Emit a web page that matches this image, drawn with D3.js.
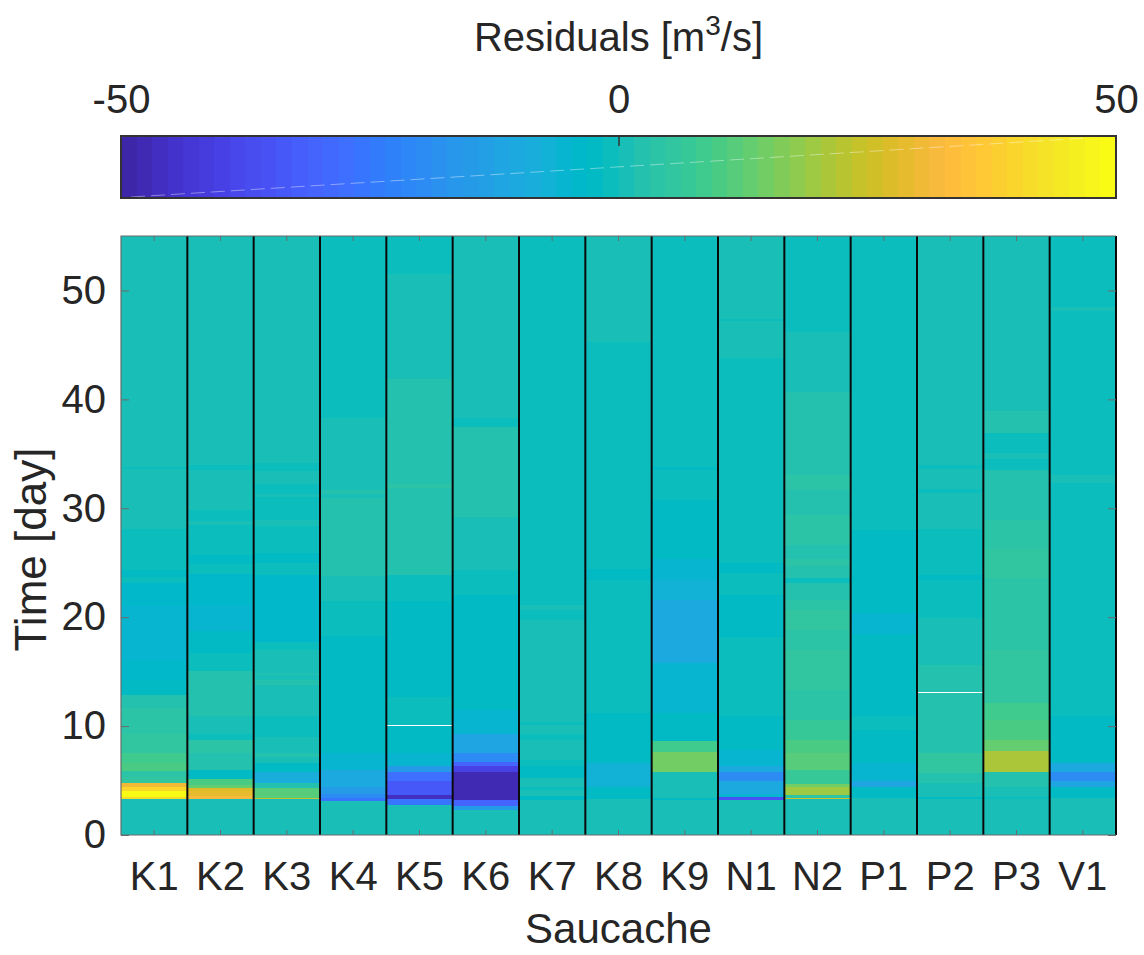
<!DOCTYPE html>
<html>
<head>
<meta charset="utf-8">
<script src="https://cdn.jsdelivr.net/npm/d3@7"></script>
<style>
  html, body { margin: 0; padding: 0; background: #fff; }
  svg { display: block; font-family: "Liberation Sans", Arial, Helvetica, sans-serif; }
</style>
</head>
<body>
<svg id="chart" width="1144" height="955"></svg>
<script>
// Stations (columns) and their residual bands: [fromDay, toDay, residual m3/s]; null = no data
const stations = ["K1", "K2", "K3", "K4", "K5", "K6", "K7", "K8", "K9", "N1", "N2", "P1", "P2", "P3", "V1"];

const K1 = [[0,3.3,0.8],[3.3,3.5,42],[3.5,4.07,49],[4.07,4.4,40],[4.4,4.75,30.5],[4.75,5.3,5.5],[5.3,5.85,3.9],
  [5.85,6.6,10],[6.6,7.5,8.6],[7.5,9.3,5.5],[9.3,11.7,3.9],[11.7,12.9,2.3],[12.9,14.2,-2.3],[14.2,16.1,-3.9],
  [16.1,21.0,-5.5],[21.0,23.1,-3.9],[23.1,23.7,-1.5],[23.7,24.35,-2.3],[24.35,28.1,-0.8],[28.1,33.6,0.8],
  [33.6,33.8,-0.8],[33.8,55,0.8]];
const K2 = [[0,3.3,0.8],[3.3,3.6,32],[3.6,4.0,29],[4.0,4.3,27],[4.3,4.6,14],[4.6,5.1,10],[5.1,6.0,-2.3],
  [6.0,7.5,2.3],[7.5,8.7,3.9],[8.7,9.3,-0.8],[9.3,10.9,0.8],[10.9,14.4,3.1],[14.4,15.1,2.3],[15.1,16.7,-0.8],
  [16.7,18.7,-3.1],[18.7,21.1,-4.7],[21.1,24.0,-3.9],[24.0,24.9,-0.8],[24.9,25.7,-2.3],[25.7,28.5,-0.8],
  [28.5,28.8,0.8],[28.8,29.8,-0.8],[29.8,33.5,0.8],[33.5,34.0,-0.8],[34.0,55,0.8]];
const K3 = [[0,3.3,0.8],[3.3,3.4,24],[3.4,4.3,11.7],[4.3,4.75,3.1],[4.75,5.8,-8.6],[5.8,6.6,-2.3],[6.6,7.2,0.8],
  [7.2,7.5,2.3],[7.5,9.0,0.8],[9.0,10.9,-0.8],[10.9,13.8,0.8],[13.8,14.2,2.3],[14.2,14.7,0.8],[14.7,14.8,2.3],
  [14.8,17.0,0.8],[17.0,17.7,-0.8],[17.7,23.9,-3.5],[23.9,24.4,-1.5],[24.4,25.0,-0.8],[25.0,25.9,-2.3],
  [25.9,28.4,-0.8],[28.4,28.9,0.8],[28.9,31.0,-0.8],[31.0,31.3,0.8],[31.3,32.2,-0.8],[32.2,33.4,0.8],
  [33.4,34.2,-0.8],[34.2,55,0.8]];
const K4 = [[0,3.1,0.8],[3.1,3.4,-26],[3.4,3.8,-20],[3.8,4.4,-15],[4.4,6.0,-10],[6.0,7.5,-5.5],[7.5,10.6,-3.1],
  [10.6,18.3,-2.3],[18.3,21.5,-0.8],[21.5,23.8,0.8],[23.8,30.9,2.3],[30.9,31.3,0.8],[31.3,31.7,2.3],
  [31.7,38.3,0.8],[38.3,55,-0.8]];
const K5 = [[0,2.75,0.8],[2.75,3.3,-26],[3.3,3.7,-46],[3.7,5.0,-33],[5.0,5.8,-27],[5.8,6.3,-15],[6.3,7.5,-5.5],
  [7.5,10.0,-2.3],[10.0,10.1,null],[10.1,12.7,-0.8],[12.7,21.5,-2.3],[21.5,23.9,-0.8],[23.9,24.6,3.1],
  [24.6,31.9,2.3],[31.9,32.2,3.9],[32.2,41.9,2.3],[41.9,51.5,0.8],[51.5,55,-0.8]];
const K6 = [[0,2.3,0.8],[2.3,2.7,-15],[2.7,3.2,-30],[3.2,5.8,-48],[5.8,6.3,-40],[6.3,6.7,-31],[6.7,7.5,-20],
  [7.5,9.3,-11],[9.3,11.5,-5.5],[11.5,22.0,-2.3],[22.0,24.3,-0.8],[24.3,28.2,0.8],[28.2,29.2,1.5],
  [29.2,37.5,2.3],[37.5,38.3,-0.8],[38.3,55,0.8]];
const K7 = [[0,3.2,0.8],[3.2,3.6,-2.3],[3.6,4.1,0.8],[4.1,4.4,-0.8],[4.4,5.2,0.8],[5.2,6.3,-3.1],[6.3,6.9,-0.8],
  [6.9,8.7,0.8],[8.7,9.3,-0.8],[9.3,10.1,0.8],[10.1,10.4,-0.8],[10.4,19.7,0.8],[19.7,20.7,-0.8],
  [20.7,21.1,0.8],[21.1,55,-0.8]];
const K8 = [[0,3.3,0.8],[3.3,4.4,-2.3],[4.4,6.6,-7],[6.6,11.2,-2.3],[11.2,23.4,-0.8],[23.4,24.4,-2.3],
  [24.4,45.3,-0.8],[45.3,55,0.8]];
const K9 = [[0,3.2,0.8],[3.2,3.4,-3.1],[3.4,3.8,0.8],[3.8,5.8,1.5],[5.8,7.6,15],[7.6,8.6,8.6],[8.6,11.2,-3.1],
  [11.2,15.8,-5.5],[15.8,21.6,-10],[21.6,23.4,-7],[23.4,25.3,-4.7],[25.3,28.6,-3.1],[28.6,30.8,-2.3],
  [30.8,31.1,-0.8],[31.1,32.0,-1.5],[32.0,33.5,-0.8],[33.5,33.8,-2.3],[33.8,55,-0.8]];
const N1 = [[0,3.2,0.8],[3.2,3.5,-35],[3.5,3.8,-5],[3.8,5.0,-10],[5.0,5.8,-20],[5.8,6.3,-10],[6.3,7.8,-5.5],
  [7.8,10.9,-2.3],[10.9,18.2,-0.8],[18.2,22.0,-2.3],[22.0,24.1,-0.8],[24.1,25.0,-2.3],[25.0,43.8,-0.8],
  [43.8,47.2,0.8],[47.2,47.4,-0.8],[47.4,55,0.8]];
const N2 = [[0,3.3,0.8],[3.3,3.4,26],[3.4,3.7,3.9],[3.7,4.4,20],[4.4,4.7,15],[4.7,6.0,7],[6.0,7.5,12],
  [7.5,8.7,9.4],[8.7,10.6,7],[10.6,13.3,3.9],[13.3,17.0,5.5],[17.0,18.8,3.9],[18.8,20.7,5.5],[20.7,21.6,3.9],
  [21.6,23.1,2.3],[23.1,23.6,-0.8],[23.6,24.7,2.3],[24.7,25.3,3.9],[25.3,26.6,3.1],[26.6,29.4,3.9],
  [29.4,31.7,2.3],[31.7,33.1,3.9],[33.1,37.4,2.3],[37.4,37.8,3.1],[37.8,40.7,2.3],[40.7,46.2,0.8],[46.2,55,-0.8]];
const P1 = [[0,3.4,0.8],[3.4,4.4,-2.3],[4.4,5.0,-12],[5.0,6.6,-5.5],[6.6,9.6,-2.3],[9.6,10.9,-0.8],
  [10.9,15.1,-2.3],[15.1,18.5,-3.1],[18.5,20.4,-5.5],[20.4,23.7,-3.1],[23.7,28.0,-2.3],[28.0,55,-0.8]];
const P2 = [[0,3.3,0.8],[3.3,3.5,-2.3],[3.5,4.75,0.8],[4.75,5.7,3.1],[5.7,7.5,5.5],[7.5,13.0,3.1],
  [13.0,13.1,null],[13.1,15.6,2.3],[15.6,19.9,0.8],[19.9,23.4,-0.8],[23.4,23.9,-2.3],[23.9,28.1,-0.8],
  [28.1,31.4,0.8],[31.4,31.8,-0.8],[31.8,33.6,0.8],[33.6,34.0,-0.8],[34.0,55,0.8]];
const P3 = [[0,3.3,0.8],[3.3,3.5,-0.8],[3.5,4.4,1.5],[4.4,5.8,3.1],[5.8,7.7,20.5],[7.7,8.7,12.5],[8.7,10.6,10],
  [10.6,12.1,8.6],[12.1,17.0,5.5],[17.0,23.6,3.9],[23.6,26.3,5.5],[26.3,28.9,3.9],[28.9,33.5,2.3],
  [33.5,34.5,-0.8],[34.5,35.1,0.8],[35.1,36.9,-0.8],[36.9,38.9,2.3],[38.9,55,0.8]];
const V1 = [[0,3.4,0.8],[3.4,4.4,-2.3],[4.4,5.0,-11],[5.0,5.8,-20],[5.8,6.6,-10],[6.6,9.6,-3.1],
  [9.6,10.9,-2.3],[10.9,32.3,-0.8],[32.3,33.1,0.8],[33.1,48.1,-0.8],[48.1,48.5,0.8],[48.5,55,-0.8]];

const bandsByStation = { K1, K2, K3, K4, K5, K6, K7, K8, K9, N1, N2, P1, P2, P3, V1 };

const timeTicks = [0, 10, 20, 30, 40, 50];
const colorTicks = [-50, 0, 50];
const timeDomain = [0, 55];
const residualDomain = [-50, 50];

// 64-step parula palette
const parula = [
  [0.2422,0.1504,0.6603],[0.2504,0.1650,0.7076],[0.2578,0.1818,0.7511],[0.2647,0.1978,0.7952],
  [0.2706,0.2147,0.8364],[0.2751,0.2342,0.8710],[0.2783,0.2559,0.8991],[0.2803,0.2782,0.9221],
  [0.2813,0.3006,0.9414],[0.2810,0.3228,0.9579],[0.2795,0.3447,0.9717],[0.2760,0.3667,0.9829],
  [0.2699,0.3892,0.9906],[0.2602,0.4123,0.9952],[0.2440,0.4358,0.9988],[0.2206,0.4603,0.9973],
  [0.1963,0.4847,0.9892],[0.1834,0.5074,0.9798],[0.1786,0.5289,0.9682],[0.1764,0.5499,0.9520],
  [0.1687,0.5703,0.9359],[0.1540,0.5902,0.9218],[0.1460,0.6091,0.9079],[0.1380,0.6276,0.8973],
  [0.1248,0.6459,0.8883],[0.1113,0.6635,0.8763],[0.0952,0.6798,0.8598],[0.0689,0.6948,0.8394],
  [0.0297,0.7082,0.8163],[0.0036,0.7203,0.7917],[0.0067,0.7312,0.7660],[0.0433,0.7411,0.7394],
  [0.0964,0.7500,0.7120],[0.1408,0.7584,0.6842],[0.1717,0.7670,0.6554],[0.1938,0.7758,0.6251],
  [0.2161,0.7843,0.5923],[0.2470,0.7918,0.5567],[0.2906,0.7973,0.5188],[0.3406,0.8008,0.4789],
  [0.3909,0.8029,0.4354],[0.4456,0.8024,0.3909],[0.5044,0.7993,0.3480],[0.5616,0.7942,0.3045],
  [0.6174,0.7876,0.2612],[0.6720,0.7793,0.2227],[0.7242,0.7698,0.1910],[0.7738,0.7598,0.1646],
  [0.8203,0.7498,0.1535],[0.8634,0.7406,0.1596],[0.9035,0.7330,0.1774],[0.9393,0.7288,0.2100],
  [0.9728,0.7298,0.2394],[0.9956,0.7434,0.2371],[0.9970,0.7659,0.2199],[0.9952,0.7893,0.2028],
  [0.9892,0.8136,0.1885],[0.9786,0.8386,0.1766],[0.9676,0.8639,0.1643],[0.9610,0.8890,0.1537],
  [0.9597,0.9135,0.1423],[0.9628,0.9373,0.1265],[0.9691,0.9606,0.1064],[0.9769,0.9839,0.0805]
].map(c => d3.rgb(c[0] * 255, c[1] * 255, c[2] * 255).formatHex());

const color = d3.scaleQuantize().domain(residualDomain).range(parula);

const svg = d3.select("#chart");
const textColor = "#262626";
const tickFont = 40;
const titleFont = 42;
const plot = { left: 121, right: 1116, top: 236, bottom: 835 };
const bar = { left: 121, right: 1116, top: 136, bottom: 198 };

const x = d3.scaleBand().domain(stations).range([plot.left, plot.right]).padding(0);
const y = d3.scaleLinear().domain(timeDomain).range([plot.bottom, plot.top]);

// ---- heatmap columns ----
const cells = [];
stations.forEach(s => bandsByStation[s].forEach(([t0, t1, v]) => cells.push({ s, t0, t1, v })));

svg.append("g").selectAll("rect").data(cells).join("rect")
  .attr("x", d => x(d.s))
  .attr("width", x.bandwidth())
  .attr("y", d => y(d.t1))
  .attr("height", d => y(d.t0) - y(d.t1))
  .attr("fill", d => d.v === null ? "#ffffff" : color(d.v))
  .attr("fill-opacity", d => d.v === null ? 0.45 : 1)
  .attr("shape-rendering", "crispEdges");

// column separators
svg.append("g").selectAll("line").data(stations).join("line")
  .attr("x1", d => x(d) + x.bandwidth()).attr("x2", d => x(d) + x.bandwidth())
  .attr("y1", plot.top).attr("y2", plot.bottom)
  .attr("stroke", "#0a0a0a").attr("stroke-width", 2);

// frame
svg.append("path")
  .attr("d", `M${plot.right},${plot.top}H${plot.left}V${plot.bottom}H${plot.right}`)
  .attr("fill", "none").attr("stroke", "#6b6b6b").attr("stroke-width", 1.2);

// y axis (left labels, inward ticks on both sides)
const yAxis = d3.axisLeft(y).tickValues(timeTicks).tickSize(-8).tickPadding(16).tickFormat(d3.format("d"));
const gy = svg.append("g").attr("transform", `translate(${plot.left},0)`).call(yAxis);
gy.select(".domain").remove();
gy.selectAll(".tick line").attr("stroke", "#6b6b6b");
gy.selectAll(".tick text").attr("font-size", tickFont).attr("fill", textColor).attr("dx", 1);
const yAxisR = d3.axisRight(y).tickValues(timeTicks).tickSize(-8).tickFormat("");
const gyr = svg.append("g").attr("transform", `translate(${plot.right},0)`).call(yAxisR);
gyr.select(".domain").remove();
gyr.selectAll(".tick line").attr("stroke", "#6b6b6b");

// x axis (bottom labels, inward ticks top and bottom)
const xAxis = d3.axisBottom(x).tickSize(-5).tickPadding(27);
const gx = svg.append("g").attr("transform", `translate(0,${plot.bottom})`).call(xAxis);
gx.select(".domain").remove();
gx.selectAll(".tick line").attr("stroke", "#6b6b6b");
gx.selectAll(".tick text").attr("font-size", tickFont).attr("fill", textColor);
const xAxisT = d3.axisTop(x).tickSize(-5).tickFormat("");
const gxt = svg.append("g").attr("transform", `translate(0,${plot.top})`).call(xAxisT);
gxt.select(".domain").remove();
gxt.selectAll(".tick line").attr("stroke", "#6b6b6b");

// axis titles
svg.append("text").attr("x", (plot.left + plot.right) / 2).attr("y", 943)
  .attr("text-anchor", "middle").attr("font-size", titleFont).attr("fill", textColor).text("Saucache");
svg.append("text").attr("transform", `translate(46,${(plot.top + plot.bottom) / 2 + 14}) rotate(-90)`)
  .attr("text-anchor", "middle").attr("font-size", titleFont + 2).attr("fill", textColor).text("Time [day]");

// ---- colorbar ----
const cx = d3.scaleLinear().domain(residualDomain).range([bar.left, bar.right]);
const step = (residualDomain[1] - residualDomain[0]) / parula.length;
const steps = parula.map((c, i) => residualDomain[0] + i * step);
svg.append("g").selectAll("rect").data(steps).join("rect")
  .attr("x", d => cx(d))
  .attr("width", d => cx(d + step) - cx(d) + 0.6)
  .attr("y", bar.top).attr("height", bar.bottom - bar.top)
  .attr("fill", d => color(d + step / 2))
  .attr("shape-rendering", "crispEdges");
// faint diagonal seam across the colorbar
svg.append("line")
  .attr("x1", bar.left + 10).attr("y1", bar.bottom - 1).attr("x2", bar.right - 30).attr("y2", bar.top + 2)
  .attr("stroke", "#ffffff").attr("stroke-opacity", 0.4).attr("stroke-width", 1)
  .attr("stroke-dasharray", "14 6");
svg.append("rect")
  .attr("x", bar.left).attr("y", bar.top).attr("width", bar.right - bar.left).attr("height", bar.bottom - bar.top)
  .attr("fill", "none").attr("stroke", "#333").attr("stroke-width", 2);

const cAxis = d3.axisTop(cx).tickValues(colorTicks).tickSize(-10).tickPadding(23).tickFormat(d => String(d));
const gc = svg.append("g").attr("transform", `translate(0,${bar.top})`).call(cAxis);
gc.select(".domain").remove();
gc.selectAll(".tick line").attr("stroke", "#333").attr("stroke-width", 1.5)
  .attr("display", (d, i) => (i === 1 ? null : "none"));
gc.selectAll(".tick text").attr("font-size", tickFont).attr("fill", textColor);

const title = svg.append("text").attr("x", (bar.left + bar.right) / 2).attr("y", 51)
  .attr("text-anchor", "middle").attr("font-size", tickFont).attr("fill", textColor);
title.append("tspan").text("Residuals [m");
title.append("tspan").attr("dy", -16).attr("font-size", 28).text("3");
title.append("tspan").attr("dy", 16).text("/s]");
</script>
</body>
</html>
